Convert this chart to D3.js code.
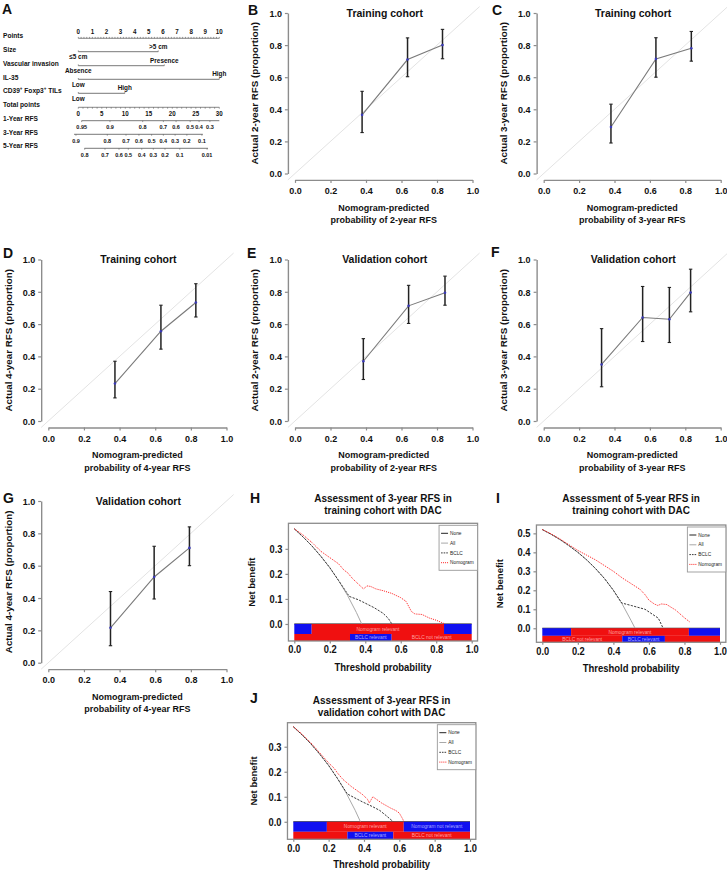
<!DOCTYPE html>
<html><head><meta charset="utf-8">
<script src="https://cdn.jsdelivr.net/npm/d3@7"></script>
<style>body{margin:0;background:#fff}svg{display:block}</style>
</head><body><svg id="c" width="727" height="872"></svg>
<script>
// ---------------- DATA ----------------
// Panel A nomogram
const nomoRowNames = ["Points","Size","Vascular invasion","IL-35","CD39+ Foxp3+ TILs","Total points","1-Year RFS","3-Year RFS","5-Year RFS"];
const pointsTicks = [0,1,2,3,4,5,6,7,8,9,10];
const varMaxPoints = [5.67, 6.1, 10, 3.3];
const varLowLabels = ["≤5 cm","Absence","Low","Low"];
const varHighLabels = [">5 cm","Presence","High","High"];
const totalTicks = [0,5,10,15,20,25,30];
const rfs1Labels = ["0.95","0.9","0.8","0.7","0.6","0.5","0.4","0.3"];
const rfs1Pos = [0.72,6.74,13.7,18.1,20.8,23.8,25.7,28.0];
const rfs1Range = [0.7,30];
const rfs3Labels = ["0.9","0.8","0.7","0.6","0.5","0.4","0.3","0.2","0.1"];
const rfs3Pos = [-0.5,6.17,10.15,12.9,15.6,18.1,20.6,23.1,26.3];
const rfs3Range = [-0.9,26.5];
const rfs5Labels = ["0.8","0.7","0.6","0.5","0.4","0.3","0.2","0.1","0.01"];
const rfs5Pos = [1.36,5.68,8.66,10.64,13.5,15.96,18.45,21.6,27.4];
const rfs5Range = [1.3,27.6];

// Calibration panels
const calTicks = [0,0.2,0.4,0.6,0.8,1];
const bPred=[0.378,0.634,0.831], bObs=[0.365,0.71,0.80], bLo=[0.255,0.603,0.715], bHi=[0.512,0.845,0.898];
const cPred=[0.38,0.634,0.834], cObs=[0.29,0.714,0.78], cLo=[0.19,0.60,0.70], cHi=[0.432,0.846,0.885];
const dPred=[0.374,0.632,0.828], dObs=[0.232,0.556,0.734], dLo=[0.143,0.445,0.644], dHi=[0.37,0.717,0.85];
const ePred=[0.385,0.64,0.845], eObs=[0.37,0.713,0.794], eLo=[0.257,0.604,0.717], eHi=[0.51,0.84,0.897];
const fPred=[0.327,0.559,0.71,0.83], fObs=[0.35,0.641,0.63,0.796], fLo=[0.212,0.492,0.486,0.676], fHi=[0.572,0.833,0.827,0.94];
const gPred=[0.349,0.594,0.792], gObs=[0.216,0.53,0.71], gLo=[0.105,0.394,0.60], gHi=[0.44,0.72,0.84];

// Decision curves: [threshold, net benefit]
const dcaXTicks = [0,0.2,0.4,0.6,0.8,1];
const noneCurve = [[0,0],[1,0]];
const hAll = [[0,0.38],[0.05,0.347],[0.1,0.311],[0.15,0.27],[0.2,0.225],[0.25,0.173],[0.3,0.114],[0.35,0.046],[0.38,0]];
const hBclc = [[0,0.38],[0.05,0.347],[0.1,0.311],[0.15,0.27],[0.2,0.225],[0.25,0.173],[0.31,0.11],[0.36,0.097],[0.4,0.083],[0.45,0.065],[0.5,0.043],[0.53,0.022],[0.55,0]];
const hNomo = [[0,0.38],[0.05,0.355],[0.1,0.325],[0.15,0.29],[0.2,0.265],[0.25,0.24],[0.28,0.215],[0.3,0.205],[0.33,0.18],[0.36,0.16],[0.39,0.14],[0.41,0.152],[0.43,0.15],[0.46,0.14],[0.5,0.133],[0.55,0.122],[0.6,0.105],[0.63,0.09],[0.66,0.05],[0.68,0.04],[0.72,0.038],[0.76,0.024],[0.8,0.015],[0.85,0]];
const hTopBreaks=[0,0.098,0.844,1], hTopColors=["blue","red","blue"], hTopLabels=["","Nomogram relevant",""];
const hBotBreaks=[0,0.314,0.549,1], hBotColors=["red","blue","red"], hBotLabels=["","BCLC relevant","BCLC not relevant"];

const iAll = [[0,0.52],[0.05,0.495],[0.1,0.467],[0.15,0.435],[0.2,0.4],[0.25,0.36],[0.3,0.314],[0.35,0.262],[0.4,0.2],[0.45,0.127],[0.5,0.04],[0.522,0]];
const iBclc = [[0,0.52],[0.05,0.495],[0.1,0.467],[0.15,0.435],[0.2,0.4],[0.25,0.36],[0.3,0.314],[0.35,0.262],[0.4,0.2],[0.447,0.133],[0.5,0.12],[0.578,0.1],[0.653,0.053],[0.68,0]];
const iNomo = [[0,0.52],[0.05,0.497],[0.1,0.47],[0.15,0.44],[0.2,0.41],[0.25,0.385],[0.3,0.36],[0.35,0.33],[0.4,0.3],[0.45,0.265],[0.5,0.235],[0.55,0.205],[0.58,0.175],[0.6,0.148],[0.63,0.128],[0.65,0.12],[0.67,0.128],[0.7,0.125],[0.75,0.096],[0.8,0.055],[0.83,0.033]];
const iTopBreaks=[0,0.162,0.825,1], iTopColors=["blue","red","blue"], iTopLabels=["","Nomogram relevant",""];
const iBotBreaks=[0,0.45,0.69,1], iBotColors=["red","blue","red"], iBotLabels=["BCLC not relevant","BCLC relevant",""];

const jAll = [[0,0.38],[0.05,0.347],[0.1,0.311],[0.15,0.27],[0.2,0.225],[0.25,0.173],[0.3,0.114],[0.35,0.046],[0.38,0]];
const jBclc = [[0,0.38],[0.05,0.347],[0.1,0.311],[0.15,0.27],[0.2,0.225],[0.25,0.173],[0.306,0.111],[0.39,0.08],[0.45,0.06],[0.49,0.045],[0.53,0.022],[0.566,0]];
const jNomo = [[0,0.38],[0.05,0.35],[0.1,0.315],[0.15,0.275],[0.2,0.235],[0.23,0.215],[0.25,0.195],[0.28,0.17],[0.3,0.158],[0.33,0.14],[0.36,0.125],[0.39,0.11],[0.42,0.09],[0.43,0.075],[0.45,0.1],[0.47,0.09],[0.5,0.075],[0.55,0.055],[0.58,0.045],[0.6,0.035],[0.62,0.01],[0.625,0]];
const jTopBreaks=[0,0.19,0.625,1], jTopColors=["blue","red","blue"], jTopLabels=["","Nomogram relevant","Nomogram not relevant"];
const jBotBreaks=[0,0.306,0.566,1], jBotColors=["red","blue","red"], jBotLabels=["","BCLC relevant","BCLC not relevant"];
const legendNames = ["None","All","BCLC","Nomogram"];

// ---------------- DRAWING ----------------
const FONT = "'Liberation Sans', Arial, Helvetica, sans-serif";
const svg = d3.select("#c");
function txt(g,x,y,s,size,o={}){
  return g.append("text").attr("x",x).attr("y",y).text(s)
    .attr("font-size",size).attr("font-family",FONT)
    .attr("font-weight",o.bold===false?"normal":"bold")
    .attr("text-anchor",o.anchor||"start").attr("fill",o.fill||"#111");
}
function styleAxis(sel){
  sel.select(".domain").attr("stroke","#8c8c8c").attr("stroke-width",1.4);
  sel.selectAll(".tick line").attr("stroke","#8c8c8c").attr("stroke-width",1.2);
  sel.selectAll(".tick text").attr("font-family",FONT).attr("font-weight","bold").attr("font-size",9).attr("fill","#111");
}

// Panel letters
[["A",2,14],["B",248,15],["C",492,15],["D",3,258],["E",247,258],["F",491,257],["G",3,503],["H",250,503],["I",496,503],["J",250,703]]
  .forEach(d=>txt(svg,d[1],d[2],d[0],14));

// ---- Panel A ----
(function(){
  const g = svg.append("g");
  const px = d3.scaleLinear().domain([0,10]).range([78.3,219.3]);
  const tx = d3.scaleLinear().domain([0,30]).range([78.3,219.3]);
  const labelY = [36,50,63.3,77.3,90.7,105,118.3,132.3,146];
  const lineY = [38.3,51.7,65.7,79.3,93.3,107.3,120.7,134.3,148.3];
  const ln = "#555";
  nomoRowNames.forEach((n,i)=>{
    const t = txt(g,3,labelY[i]+2.4,"",6.6);
    if(n.startsWith("CD39")){
      t.append("tspan").text("CD39");
      t.append("tspan").text("+").attr("font-size",4.5).attr("dy",-2.5);
      t.append("tspan").text(" Foxp3").attr("dy",2.5);
      t.append("tspan").text("+").attr("font-size",4.5).attr("dy",-2.5);
      t.append("tspan").text(" TILs").attr("dy",2.5);
    } else t.text(n);
  });
  // Points axis
  g.append("line").attr("x1",px(0)).attr("x2",px(10)).attr("y1",lineY[0]).attr("y2",lineY[0]).attr("stroke",ln).attr("stroke-width",0.7);
  d3.range(0,10.001,0.2).forEach(v=>g.append("line").attr("x1",px(v)).attr("x2",px(v)).attr("y1",lineY[0]).attr("y2",lineY[0]-1.4).attr("stroke",ln).attr("stroke-width",0.6));
  pointsTicks.forEach(v=>txt(g,px(v),31.7+2.2,String(v),6.2,{anchor:"middle"}));
  // variables
  varMaxPoints.forEach((m,i)=>{
    const y = lineY[i+1];
    g.append("line").attr("x1",px(0)).attr("x2",px(m)).attr("y1",y).attr("y2",y).attr("stroke",ln).attr("stroke-width",0.8);
    [0,m].forEach(v=>g.append("line").attr("x1",px(v)).attr("x2",px(v)).attr("y1",y).attr("y2",y-1.3).attr("stroke",ln).attr("stroke-width",0.6));
    txt(g,px(m),y-5+2.2,varHighLabels[i],6.4,{anchor:"middle"});
    txt(g,px(0),y+5.6+2.2,varLowLabels[i],6.4,{anchor:"middle"});
  });
  // Total points
  const ty = lineY[5];
  g.append("line").attr("x1",tx(0)).attr("x2",tx(30)).attr("y1",ty).attr("y2",ty).attr("stroke",ln).attr("stroke-width",0.7);
  d3.range(0,30.001,1).forEach(v=>g.append("line").attr("x1",tx(v)).attr("x2",tx(v)).attr("y1",ty).attr("y2",ty+1.4).attr("stroke",ln).attr("stroke-width",0.6));
  totalTicks.forEach(v=>txt(g,tx(v),114+2.2,String(v),6.2,{anchor:"middle"}));
  // survival axes
  [[rfs1Labels,rfs1Pos,rfs1Range,6,127.3],[rfs3Labels,rfs3Pos,rfs3Range,7,140.7],[rfs5Labels,rfs5Pos,rfs5Range,8,155]].forEach(([labs,pos,rng,row,ly])=>{
    const y = lineY[row];
    g.append("line").attr("x1",tx(rng[0])).attr("x2",tx(rng[1])).attr("y1",y).attr("y2",y).attr("stroke",ln).attr("stroke-width",0.8);
    pos.forEach((p,k)=>{
      g.append("line").attr("x1",tx(p)).attr("x2",tx(p)).attr("y1",y).attr("y2",y+1.4).attr("stroke",ln).attr("stroke-width",0.6);
      txt(g,tx(p),ly+2.1,labs[k],5.5,{anchor:"middle"});
    });
  });
})();

// ---- Calibration panels ----
const calPad = -0.04, calExt = [-0.04,1.04];
function calPanel(p){
  const g = svg.append("g");
  const x = d3.scaleLinear().domain([0,1]).range([p.x0,p.x1]);
  const y = d3.scaleLinear().domain([0,1]).range([p.y0,p.y1]);
  const ax = x(calPad), ay = y(calPad);
  g.append("line").attr("x1",x(calExt[0])).attr("y1",y(calExt[0])).attr("x2",x(calExt[1])).attr("y2",y(calExt[1]))
    .attr("stroke","#e3e3e3").attr("stroke-width",1);
  const ya = g.append("g").attr("transform",`translate(${ax},0)`)
    .call(d3.axisLeft(y).tickValues(calTicks).tickFormat(d3.format(".1f")).tickSize(3).tickSizeOuter(0).tickPadding(3));
  styleAxis(ya);
  const xa = g.append("g").attr("transform",`translate(0,${ay})`)
    .call(d3.axisBottom(x).tickValues(calTicks).tickFormat(d3.format(".1f")).tickSize(3).tickSizeOuter(0).tickPadding(4));
  styleAxis(xa);
  const pts = p.pred.map((v,i)=>({x:v,o:p.obs[i],lo:p.lo[i],hi:p.hi[i]}));
  g.append("path").datum(pts).attr("d",d3.line().x(d=>x(d.x)).y(d=>y(d.o)))
    .attr("fill","none").attr("stroke","#7a7a7a").attr("stroke-width",1.1);
  pts.forEach(d=>{
    g.append("line").attr("x1",x(d.x)).attr("x2",x(d.x)).attr("y1",y(d.lo)).attr("y2",y(d.hi)).attr("stroke","#222").attr("stroke-width",1.5);
    [d.lo,d.hi].forEach(v=>g.append("line").attr("x1",x(d.x)-1.7).attr("x2",x(d.x)+1.7).attr("y1",y(v)).attr("y2",y(v)).attr("stroke","#222").attr("stroke-width",1.1));
    g.append("circle").attr("cx",x(d.x)).attr("cy",y(d.o)).attr("r",1.3).attr("fill","#3a3ab8");
  });
  const cx = (p.x0+p.x1)/2;
  txt(g,cx+1,p.y1+3.8,p.title,10.5,{anchor:"middle"});
  txt(g,cx,ay+30.8,"Nomogram-predicted",9,{anchor:"middle"});
  txt(g,cx,ay+43.3,`probability of ${p.yr}-year RFS`,9,{anchor:"middle"});
  txt(g,0,0,`Actual ${p.yr}-year RFS (proportion)`,9.8,{anchor:"middle"})
    .attr("dominant-baseline","central")
    .attr("transform",`translate(${ax-33},${(p.y0+p.y1)/2}) rotate(-90)`);
}
const cols = [[48.3,226.5],[295,472.5],[543.7,720.7]];
const rows = [[173.5,13],[421,259.5],[662.7,501]];
calPanel({x0:cols[1][0],x1:cols[1][1],y0:rows[0][0],y1:rows[0][1],pred:bPred,obs:bObs,lo:bLo,hi:bHi,title:"Training cohort",yr:2});
calPanel({x0:cols[2][0],x1:cols[2][1],y0:rows[0][0],y1:rows[0][1],pred:cPred,obs:cObs,lo:cLo,hi:cHi,title:"Training cohort",yr:3});
calPanel({x0:cols[0][0],x1:cols[0][1],y0:rows[1][0],y1:rows[1][1],pred:dPred,obs:dObs,lo:dLo,hi:dHi,title:"Training cohort",yr:4});
calPanel({x0:cols[1][0],x1:cols[1][1],y0:rows[1][0],y1:rows[1][1],pred:ePred,obs:eObs,lo:eLo,hi:eHi,title:"Validation cohort",yr:2});
calPanel({x0:cols[2][0],x1:cols[2][1],y0:rows[1][0],y1:rows[1][1],pred:fPred,obs:fObs,lo:fLo,hi:fHi,title:"Validation cohort",yr:3});
calPanel({x0:cols[0][0],x1:cols[0][1],y0:rows[2][0],y1:rows[2][1],pred:gPred,obs:gObs,lo:gLo,hi:gHi,title:"Validation cohort",yr:4});

// ---- Decision curve panels ----
const dcaPad = 0.033;
const barRows = [[0,-0.04],[-0.04,-0.1]];
let clipId = 0;
function dcaPanel(p){
  const g = svg.append("g");
  const x = d3.scaleLinear().domain([0,1]).range([p.x0,p.x1]);
  const y = d3.scaleLinear().domain(p.ydom).range([p.yb,p.yt]);
  const bl = x(-dcaPad), br = x(1+dcaPad), bt = p.yt, bb = p.yb;
  const id = "clip"+(clipId++);
  svg.append("defs").append("clipPath").attr("id",id).append("rect").attr("x",bl).attr("y",bt).attr("width",br-bl).attr("height",bb-bt);
  const pg = g.append("g").attr("clip-path",`url(#${id})`);
  const line = d3.line().x(d=>x(d[0])).y(d=>y(d[1]));
  pg.append("path").datum(noneCurve).attr("d",line).attr("fill","none").attr("stroke","#222").attr("stroke-width",1);
  pg.append("path").datum(p.all).attr("d",line).attr("fill","none").attr("stroke","#a8a8a8").attr("stroke-width",1);
  pg.append("path").datum(p.bclc).attr("d",line).attr("fill","none").attr("stroke","#3a3a3a").attr("stroke-width",1).attr("stroke-dasharray","2.2,1.3");
  pg.append("path").datum(p.nomo).attr("d",line).attr("fill","none").attr("stroke","#f22").attr("stroke-width",1).attr("stroke-dasharray","1.1,1.1");
  [[p.topB,p.topC,p.topL,barRows[0]],[p.botB,p.botC,p.botL,barRows[1]]].forEach(([br_,cs,ls,rr])=>{
    cs.forEach((c,k)=>{
      const xa = x(br_[k]), xb = x(br_[k+1]);
      pg.append("rect").attr("x",xa).attr("width",xb-xa).attr("y",y(rr[0])).attr("height",y(rr[1])-y(rr[0]))
        .attr("fill",c==="red"?"#f01010":"#1010f0");
      if(ls[k]){
        const yc = (y(rr[0])+Math.min(y(rr[1]),bb))/2;
        txt(pg,(xa+xb)/2,yc+1.6,ls[k],4.9,{anchor:"middle",bold:false,fill:c==="red"?"#ffa0a0":"#a8a8ff"});
      }
    });
  });
  g.append("rect").attr("x",bl).attr("y",bt).attr("width",br-bl).attr("height",bb-bt).attr("fill","none").attr("stroke","#8c8c8c").attr("stroke-width",1.3);
  const ya = g.append("g").attr("transform",`translate(${bl},0)`)
    .call(d3.axisLeft(y).tickValues(p.yticks).tickFormat(d3.format(".1f")).tickSize(3).tickSizeOuter(0).tickPadding(3));
  styleAxis(ya); ya.select(".domain").remove();
  const xa = g.append("g").attr("transform",`translate(0,${bb})`)
    .call(d3.axisBottom(x).tickValues(dcaXTicks).tickFormat(d3.format(".1f")).tickSize(2.5).tickSizeOuter(0).tickPadding(2.5));
  styleAxis(xa); xa.select(".domain").remove();
  xa.selectAll(".tick text").attr("font-size",9.3);
  ya.selectAll(".tick text").attr("font-size",9.3);
  const cx = (bl+br)/2;
  txt(g,cx,p.t1+3.6,p.title[0],10,{anchor:"middle"});
  txt(g,cx,p.t2+3.6,p.title[1],10,{anchor:"middle"});
  txt(g,cx,bb+p.xt,"Threshold probability",9.5,{anchor:"middle"});
  txt(g,0,0,"Net benefit",9.5,{anchor:"middle"}).attr("dominant-baseline","central")
    .attr("transform",`translate(${bl+p.yl},${(bt+bb)/2}) rotate(-90)`);
  const lw = 38.5, lh = 45, lx = br - lw, ly = bt + 2;
  g.append("rect").attr("x",lx).attr("y",ly).attr("width",lw).attr("height",lh).attr("fill","#fff").attr("stroke","#999").attr("stroke-width",0.9);
  const st = [["#222",null],["#a8a8a8",null],["#3a3a3a","1.6,1"],["#f22","1,1"]];
  legendNames.forEach((n,k)=>{
    const yy = ly + 8 + k*9.8;
    const l = g.append("line").attr("x1",lx+2).attr("x2",lx+9).attr("y1",yy).attr("y2",yy).attr("stroke",st[k][0]).attr("stroke-width",1);
    if(st[k][1]) l.attr("stroke-dasharray",st[k][1]);
    txt(g,lx+11,yy+1.7,n,4.8,{bold:false,fill:"#222"});
  });
}
dcaPanel({x0:294.3,x1:471.7,ydom:[-0.068,0.402],yb:641,yt:523.3,yticks:[0,0.1,0.2,0.3],all:hAll,bclc:hBclc,nomo:hNomo,
  topB:hTopBreaks,topC:hTopColors,topL:hTopLabels,botB:hBotBreaks,botC:hBotColors,botL:hBotLabels,
  title:["Assessment of 3-year RFS in","training cohort with DAC"],t1:498.3,t2:510.7,xt:30.5,yl:-36.5});
dcaPanel({x0:542.3,x1:720,ydom:[-0.074,0.544],yb:642.3,yt:525,yticks:[0,0.1,0.2,0.3,0.4,0.5],all:iAll,bclc:iBclc,nomo:iNomo,
  topB:iTopBreaks,topC:iTopColors,topL:iTopLabels,botB:iBotBreaks,botC:iBotColors,botL:iBotLabels,
  title:["Assessment of 5-year RFS in","training cohort with DAC"],t1:498.3,t2:510.7,xt:29.5,yl:-37});
dcaPanel({x0:293.3,x1:470,ydom:[-0.07,0.396],yb:839.3,yt:722.7,yticks:[0,0.1,0.2,0.3],all:jAll,bclc:jBclc,nomo:jNomo,
  topB:jTopBreaks,topC:jTopColors,topL:jTopLabels,botB:jBotBreaks,botC:jBotColors,botL:jBotLabels,
  title:["Assessment of 3-year RFS in","validation cohort with DAC"],t1:700,t2:712.7,xt:29,yl:-33.5});

// The source figure's text is narrower than it is tall: stretch horizontal text vertically
svg.selectAll("text").each(function(){
  const t = d3.select(this);
  if (t.attr("transform")) return;
  const yy = +t.attr("y") || 0;
  t.attr("transform", `translate(0,${yy}) scale(1,1.11) translate(0,${-yy})`);
});
</script></body></html>
